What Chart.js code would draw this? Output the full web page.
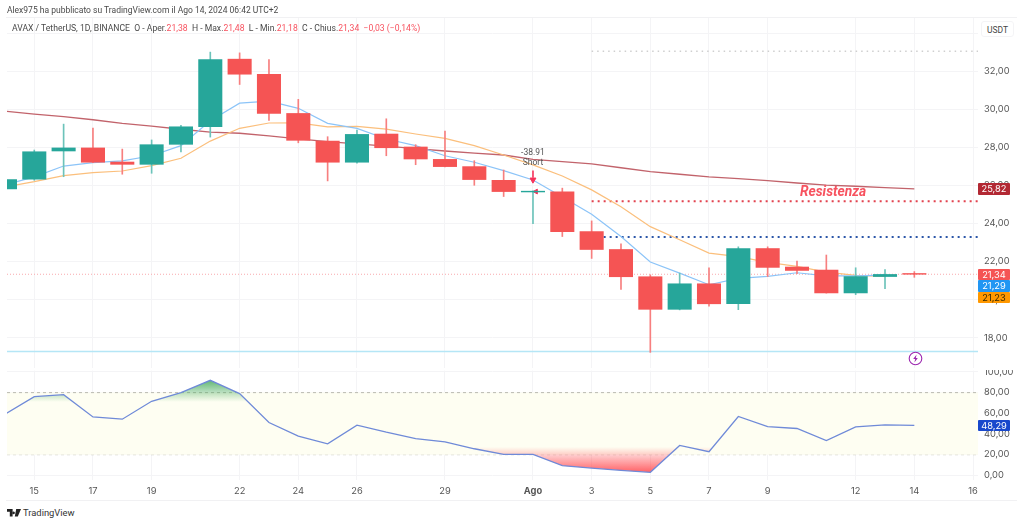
<!DOCTYPE html>
<html lang="it">
<head>
  <meta charset="UTF-8" />
  <title>AVAX / TetherUS</title>
  <script src="https://cdn.jsdelivr.net/npm/chart.js"></script>
  <style>
    html, body { margin: 0; padding: 0; background: #fff; }
    body { width: 1024px; height: 524px; overflow: hidden; position: relative; font-family: Roboto, "Liberation Sans", sans-serif; color: #555; }
    canvas { position: absolute; left: 0; }
    #frame { position: absolute; left: 6px; top: 17px; width: 1011px; height: 484px; border-top: 1px solid #f1f1f3; border-bottom: 1px solid #f1f1f3; box-sizing: border-box; }
    .txt { position: absolute; white-space: nowrap; }
    #pub { left: 7px; top: 5px; font-size: 8.5px; color: #4a4a4a; }
    #legend { left: 12px; top: 23px; font-size: 8.62px; color: #4a4a4a; }
    #legend b { font-weight: 400; color: #f7525f; }
    #usdt { left: 981px; top: 21px; width: 33px; height: 16px; line-height: 16px; text-align: center; font-size: 8.5px; border: 1px solid #f4f4f6; border-radius: 3px; background: #fff; color: #444; box-sizing: border-box; }
    .badge { position: absolute; left: 978px; width: 32px; height: 11.5px; line-height: 11.5px; text-align: center; font-size: 9.3px; font-family: Inter, sans-serif; color: #fff; border-radius: 1px; }
    #res { font-size: 13.8px; font-weight: 700; font-style: italic; color: #f7525f; }
    .ann { font-size: 8.5px; color: #555; transform: translateX(-50%); }
    #tv { left: 23px; top: 507px; font-size: 9.4px; color: #333; }
    svg { position: absolute; }
  </style>
</head>
<body>
  <div id="frame"></div>
  <canvas id="priceChart" width="1024" height="360" style="top:13px"></canvas>
  <canvas id="rsiChart" width="1024" height="130" style="top:370px"></canvas>

  <div class="txt" id="pub">Alex975 ha pubblicato su TradingView.com il Ago 14, 2024 06:42 UTC+2</div>
  <div class="txt" id="legend">AVAX / TetherUS, 1D, BINANCE &nbsp;O - Aper.<b>21,38</b> &nbsp;H - Max.<b>21,48</b> &nbsp;L - Min.<b>21,18</b> &nbsp;C - Chius.<b>21,34</b> &nbsp;<b>−0,03 (−0,14%)</b></div>
  <div class="txt" id="usdt">USDT</div>
  <div class="txt" id="res">Resistenza</div>
  <div class="txt ann" id="ann1">-38.91</div>
  <div class="txt ann" id="ann2">Short</div>
  <div class="badge" id="bMa200" style="background:#b22833">25,82</div>
  <div class="badge" id="bLast" style="background:#f55454">21,34</div>
  <div class="badge" id="bMa5" style="background:#2196f3">21,29</div>
  <div class="badge" id="bMa10" style="background:#ff9800;color:#3a2a00">21,23</div>
  <div class="badge" id="bRsi" style="background:#1848cc">48,29</div>

  <svg id="bolt" width="15" height="15" style="left:907.5px;top:350.5px" viewBox="0 0 15 15">
    <circle cx="7.5" cy="7.5" r="6.3" fill="#fff" stroke="#9c27b0" stroke-width="1.1"/>
    <path d="M8.6 3.6 L5.2 8 L7.2 8 L6.4 11.4 L9.8 6.9 L7.8 6.9 Z" fill="#9c27b0"/>
  </svg>
  <svg width="14" height="8" style="left:7px;top:509px" viewBox="0 0 14 8">
    <path d="M0 0 H5.6 V7.6 H2.8 V2.8 H0 Z M6.6 2.6 a1.3 1.3 0 1 0 .01 0 Z M9.2 0 H14 L10.8 7.6 H7.8 Z" fill="#222"/>
  </svg>
  <div class="txt" id="tv">TradingView</div>

  <script>
    // day index 0 = 14 Jul, 18 = 1 Ago, 31 = 14 Ago
    const opens = [25.82, 26.33, 27.81, 27.97, 27.23, 27.11, 28.16, 29.08, 32.63, 31.84, 29.78, 28.33, 27.22, 28.70, 28.02, 27.37, 26.99, 26.27, 25.66, 25.66, 23.58, 22.64, 21.21, 19.50, 20.84, 19.79, 22.69, 21.72, 21.56, 20.36, 21.22, 21.38];
    const highs = [26.45, 27.86, 29.22, 29.01, 27.91, 28.39, 29.16, 33.00, 32.96, 32.61, 30.52, 28.56, 28.91, 29.50, 28.14, 28.86, 27.30, 26.81, 25.72, 25.86, 24.14, 22.94, 21.31, 21.40, 21.68, 22.78, 22.78, 22.03, 22.35, 21.68, 21.58, 21.48];
    const lows = [25.70, 26.27, 26.46, 27.20, 26.59, 26.64, 27.76, 28.54, 31.30, 29.42, 28.24, 26.24, 27.17, 27.56, 27.09, 26.98, 26.01, 25.42, 24.00, 23.32, 22.17, 20.54, 17.24, 19.47, 19.67, 19.48, 21.22, 21.37, 20.35, 20.27, 20.58, 21.18];
    const closes = [26.31, 27.77, 27.97, 27.22, 27.11, 28.14, 29.08, 32.61, 31.84, 29.78, 28.37, 27.22, 28.68, 27.98, 27.39, 26.99, 26.31, 25.68, 25.70, 23.58, 22.64, 21.21, 19.50, 20.84, 19.79, 22.69, 21.70, 21.54, 20.36, 21.22, 21.33, 21.34];

    const ma5 = [26.03, 26.45, 27.02, 27.20, 27.29, 27.56, 28.09, 29.40, 30.32, 30.43, 30.05, 29.26, 29.00, 28.44, 28.09, 27.56, 27.22, 26.78, 26.29, 25.40, 24.49, 23.32, 21.98, 21.40, 20.79, 21.12, 21.23, 21.42, 21.26, 21.26, 21.29];
    const ma10 = [25.92, 26.20, 26.52, 26.67, 26.76, 27.04, 27.43, 28.33, 29.00, 29.28, 29.29, 29.08, 29.10, 28.96, 28.70, 28.47, 28.09, 27.60, 27.08, 26.50, 25.77, 24.88, 23.84, 23.15, 22.45, 22.27, 21.96, 21.75, 21.45, 21.28, 21.23];
    const ma200 = [29.90, 29.75, 29.61, 29.45, 29.26, 29.12, 28.95, 28.80, 28.74, 28.60, 28.45, 28.30, 28.18, 28.06, 27.93, 27.81, 27.70, 27.60, 27.37, 27.25, 27.13, 26.93, 26.73, 26.59, 26.45, 26.36, 26.25, 26.13, 26.02, 25.96, 25.89, 25.82];
    const rsi = [59.0, 76.1, 78.0, 56.5, 54.3, 71.6, 80.0, 91.9, 79.0, 51.1, 37.9, 30.5, 48.5, 41.7, 35.6, 32.4, 25.7, 20.2, 20.2, 9.3, 7.0, 4.8, 2.9, 28.9, 22.8, 56.9, 47.2, 45.3, 33.7, 46.9, 48.8, 48.29];

    const tickDays = [1, 3, 5, 8, 10, 12, 15, 18, 20, 22, 24, 26, 29, 31, 33];
    const tickLabels = ["15", "17", "19", "22", "24", "26", "29", "Ago", "3", "5", "7", "9", "12", "14", "16"];

    const xMin = 0.07, xMax = 33.17;
    const levelStart = 20;
    const topLevel = 33.05, resistance = 25.17, support = 23.3, lastPrice = 21.34, bottomLevel = 17.28;
    const rsiLevels = [80, 50, 20];
    const priceTop = 13, rsiTop = 370; // canvas offsets on the page
    const rsiZeroY = 475.3, rsiPxPerUnit = 1.04; // where the RSI pane sits on the page

    const GREEN = "#26a69a", RED = "#f55454", GRID = "#f4f4f6", TICK = "#555";

    const isUp = i => closes[i] >= opens[i];
    const points = arr => arr.map((y, x) => ({ x, y }));
    const hline = (y, from) => [{ x: from, y }, { x: xMax, y }];

    function xAxis(showLabels) {
      return {
        type: "linear", min: xMin, max: xMax, offset: false,
        grid: { color: GRID, offset: false, drawTicks: false },
        border: { display: false },
        afterBuildTicks: axis => { axis.ticks = tickDays.map(value => ({ value })); },
        afterFit: axis => { axis.height = showLabels ? 20 : 0; axis.paddingLeft = 0; axis.paddingRight = 0; },
        ticks: {
          display: showLabels, autoSkip: false, maxRotation: 0, padding: 6, color: TICK,
          font: c => ({ family: "Inter", size: 9.3, weight: c.tick && c.tick.value === 18 ? "700" : "400" }),
          callback: v => tickLabels[tickDays.indexOf(v)]
        }
      };
    }

    function yAxis(min, max, step, lastLabel) {
      return {
        type: "linear", position: "right", min, max,
        grid: { color: GRID, drawTicks: false },
        border: { display: false },
        afterFit: axis => { axis.width = 46; axis.paddingTop = 0; axis.paddingBottom = 0; },
        ticks: {
          stepSize: step, includeBounds: false, padding: 6, color: TICK,
          font: { family: "Inter", size: 9.3 },
          callback: v => v > lastLabel ? "" : v.toFixed(2).replace(".", ",")
        }
      };
    }

    const lineStyle = (color, width, order) => ({ type: "line", borderColor: color, borderWidth: width, pointRadius: 0, tension: 0, fill: false, order });

    const shared = {
      responsive: false,
      animation: false,
      layout: { padding: { left: 7, top: 0, bottom: 0, right: 0 } },
      plugins: { legend: { display: false }, tooltip: { enabled: false } }
    };

    const priceChart = new Chart(document.getElementById("priceChart"), {
      type: "bar",
      data: {
        datasets: [
          { type: "bar", data: opens.map((o, i) => ({ x: i, y: [o, closes[i]] })), backgroundColor: c => isUp(c.dataIndex) ? GREEN : RED, barThickness: 23.4, grouped: false, order: 0 },
          { type: "bar", data: opens.map((o, i) => ({ x: i, y: [lows[i], highs[i]] })), backgroundColor: c => isUp(c.dataIndex) ? "#6cc3ba" : "#f77f7f", barThickness: 1, grouped: false, order: 1 },
          { ...lineStyle("#8cc4f8", 1.2, 3), data: points(ma5) },
          { ...lineStyle("#fbbf7c", 1.2, 4), data: points(ma10) },
          { ...lineStyle("#c2636b", 1.3, 5), data: points(ma200) },
          { ...lineStyle("#cfcfcf", 1.5, 6), data: hline(topLevel, levelStart), borderDash: [1.5, 4] },
          { ...lineStyle("#e2434f", 2, 6), data: hline(resistance, levelStart), borderDash: [2, 4] },
          { ...lineStyle("#2b56a8", 2, 6), data: hline(support, levelStart), borderDash: [2, 4] },
          { ...lineStyle("#f9a9ad", 1, 6), data: hline(lastPrice, xMin), borderDash: [1, 2] },
          { ...lineStyle("#b5e6f6", 1.5, 6), data: hline(bottomLevel, xMin) },
          // "Short" arrow: shaft, head, and the small marker beside the 1 Ago candle
          { ...lineStyle("#f7325a", 1.6, 2), data: [{ x: 18, y: 26.78 }, { x: 18, y: 26.4 }] },
          { ...lineStyle("#f7325a", 1, 2), data: [{ x: 18, y: 26.3 }], pointStyle: "triangle", pointRadius: 3.4, pointRotation: 180, pointBackgroundColor: "#f7325a", pointBorderColor: "#f7325a" },
          { ...lineStyle("#f7325a", 1, 2), data: [{ x: 18.1, y: 25.68 }], pointStyle: "triangle", pointRadius: 2.8, pointRotation: -90, pointBackgroundColor: "#f7325a", pointBorderColor: "#f7325a" }
        ]
      },
      options: { ...shared, scales: { x: xAxis(false), y: yAxis(16.42, 34.79, 2, 32) } }
    });

    const rsiChart = new Chart(document.getElementById("rsiChart"), {
      type: "line",
      data: {
        datasets: [
          { ...lineStyle("#b9b9b0", 1, 5), data: hline(rsiLevels[0], xMin), borderDash: [3, 3], fill: { target: { value: rsiLevels[2] }, above: "#fefef2", below: "#fefef2" } },
          { ...lineStyle("#b9b9b0", 1, 5), data: hline(rsiLevels[1], xMin), borderDash: [3, 3] },
          { ...lineStyle("#b9b9b0", 1, 5), data: hline(rsiLevels[2], xMin), borderDash: [3, 3] },
          { ...lineStyle("rgba(0,0,0,0)", 0, 3), data: points(rsi) },
          { ...lineStyle("rgba(0,0,0,0)", 0, 2), data: points(rsi) },
          { ...lineStyle("#6f8ad8", 1.3, 1), data: points(rsi) }
        ]
      },
      options: { ...shared, scales: { x: xAxis(true), y: yAxis(-4.5, 101.5, 20, 100) } }
    });

    // set the RSI range from the plot box it actually got
    const rsiArea = rsiChart.chartArea;
    rsiChart.options.scales.y.min = (rsiZeroY - (rsiTop + rsiArea.bottom)) / rsiPxPerUnit;
    rsiChart.options.scales.y.max = (rsiZeroY - (rsiTop + rsiArea.top)) / rsiPxPerUnit;
    rsiChart.update("none");

    // the overbought / oversold gradients need pixel positions from the scale
    const ry = rsiChart.scales.y;
    const greenFill = rsiChart.ctx.createLinearGradient(0, ry.getPixelForValue(92), 0, ry.getPixelForValue(71));
    greenFill.addColorStop(0, "rgba(70,170,90,0.85)");
    greenFill.addColorStop(1, "rgba(70,170,90,0)");
    const redFill = rsiChart.ctx.createLinearGradient(0, ry.getPixelForValue(0), 0, ry.getPixelForValue(27.5));
    redFill.addColorStop(0, "rgba(255,70,75,0.95)");
    redFill.addColorStop(1, "rgba(255,70,75,0)");
    rsiChart.data.datasets[3].fill = { target: { value: 71 }, above: greenFill, below: "rgba(0,0,0,0)" };
    rsiChart.data.datasets[4].fill = { target: { value: 27.5 }, above: "rgba(0,0,0,0)", below: redFill };
    rsiChart.update("none");

    // labels that follow the scales
    const px = priceChart.scales.x, py = priceChart.scales.y;
    const priceY = v => priceTop + py.getPixelForValue(v);
    const rsiY = v => rsiTop + ry.getPixelForValue(v);
    const place = (id, left, top) => {
      const el = document.getElementById(id);
      if (left !== null) el.style.left = left + "px";
      el.style.top = top + "px";
    };
    place("bMa200", null, priceY(25.82) - 5.75);
    place("bLast", null, priceY(21.34) - 5.75);
    place("bMa5", null, priceY(21.34) + 5.75);
    place("bMa10", null, priceY(21.34) + 17.25);
    place("bRsi", null, rsiY(48.29) - 5.75);
    place("res", px.getPixelForValue(27.1), priceY(25.82) - 6);
    place("ann1", px.getPixelForValue(18), priceY(27.75) - 5);
    place("ann2", px.getPixelForValue(18), priceY(27.23) - 5);
  </script>
</body>
</html>
